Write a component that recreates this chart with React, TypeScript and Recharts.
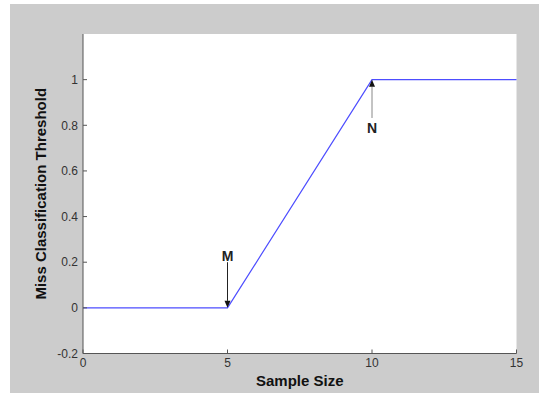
import React from 'react';
import { LineChart, Line, XAxis, YAxis, CartesianGrid, ReferenceLine, ReferenceDot } from 'recharts';

const sampleSize = [0, 5, 10, 15];
const threshold = [0, 0, 1, 1];
const xTicks = [0, 5, 10, 15];
const yTicks = [-0.2, 0, 0.2, 0.4, 0.6, 0.8, 1];

// annotation arrows
const arrowM = { x: 5, from: 0.2, to: 0, label: 'M', labelY: 0.228 };
const arrowN = { x: 10, from: 0.832, to: 1, label: 'N', labelY: 0.79 };

const data = sampleSize.map((x, i) => ({ x, y: threshold[i] }));

const FONT = 'Liberation Sans, Arial, Helvetica, sans-serif';

const makeArrow = (color: string) => (props: any) => {
  const { x1, y1, x2, y2 } = props;
  const dir = Math.sign(y2 - y1) || 1;
  const hl = 7;
  const hw = 3;
  return (
    <g>
      <line x1={x1} y1={y1} x2={x2} y2={y2 - dir * hl} stroke={color} strokeWidth={1} />
      <polygon
        points={`${x2},${y2} ${x2 - hw},${y2 - dir * hl} ${x2 + hw},${y2 - dir * hl}`}
        fill="#111"
      />
    </g>
  );
};

export default function App() {
  return (
    <div style={{ position: 'absolute', left: 0, top: 0, width: 539, height: 393, background: '#fff' }}>
      <div style={{ position: 'absolute', left: 10, top: 4, width: 529, height: 389, background: '#cccccc' }} />
      <div style={{ position: 'absolute', left: 0, top: 0 }}>
        <LineChart
          width={539}
          height={393}
          data={data}
          margin={{ top: 34, right: 22.5, bottom: 9.5, left: 0 }}
        >
          <CartesianGrid horizontal={false} vertical={false} fill="#ffffff" fillOpacity={1} stroke="none" />
          <XAxis
            type="number"
            dataKey="x"
            domain={[0, 15]}
            ticks={xTicks}
            height={30}
            tickSize={-4}
            tickMargin={9}
            axisLine={{ stroke: '#555' }}
            tickLine={{ stroke: '#555' }}
            tick={{ fill: '#333', fontSize: 12, fontFamily: FONT }}
            label={{ value: 'Sample Size', position: 'center', dy: 12, fill: '#111', fontSize: 15, fontWeight: 'bold', fontFamily: FONT }}
          />
          <YAxis
            type="number"
            domain={[-0.2, 1.2]}
            ticks={yTicks}
            width={83}
            tickSize={-4}
            tickMargin={9}
            axisLine={{ stroke: '#555' }}
            tickLine={{ stroke: '#555' }}
            tick={{ fill: '#333', fontSize: 12, fontFamily: FONT }}
            label={{ value: 'Miss Classification Threshold', angle: -90, position: 'center', dx: -1, fill: '#111', fontSize: 15, fontWeight: 'bold', fontFamily: FONT }}
          />
          <Line
            type="linear"
            dataKey="y"
            stroke="#4d4dff"
            strokeWidth={1.2}
            dot={false}
            activeDot={false}
            isAnimationActive={false}
          />
          <ReferenceLine
            segment={[{ x: arrowM.x, y: arrowM.from }, { x: arrowM.x, y: arrowM.to }]}
            shape={makeArrow('#222')}
          />
          <ReferenceLine
            segment={[{ x: arrowN.x, y: arrowN.from }, { x: arrowN.x, y: arrowN.to }]}
            shape={makeArrow('#888')}
          />
          <ReferenceDot
            x={arrowM.x}
            y={arrowM.labelY}
            r={0}
            fill="none"
            stroke="none"
            label={{ value: arrowM.label, position: 'center', fill: '#222', fontSize: 14, fontWeight: 'bold', fontFamily: FONT }}
          />
          <ReferenceDot
            x={arrowN.x}
            y={arrowN.labelY}
            r={0}
            fill="none"
            stroke="none"
            label={{ value: arrowN.label, position: 'center', fill: '#222', fontSize: 14, fontWeight: 'bold', fontFamily: FONT }}
          />
        </LineChart>
      </div>
    </div>
  );
}
